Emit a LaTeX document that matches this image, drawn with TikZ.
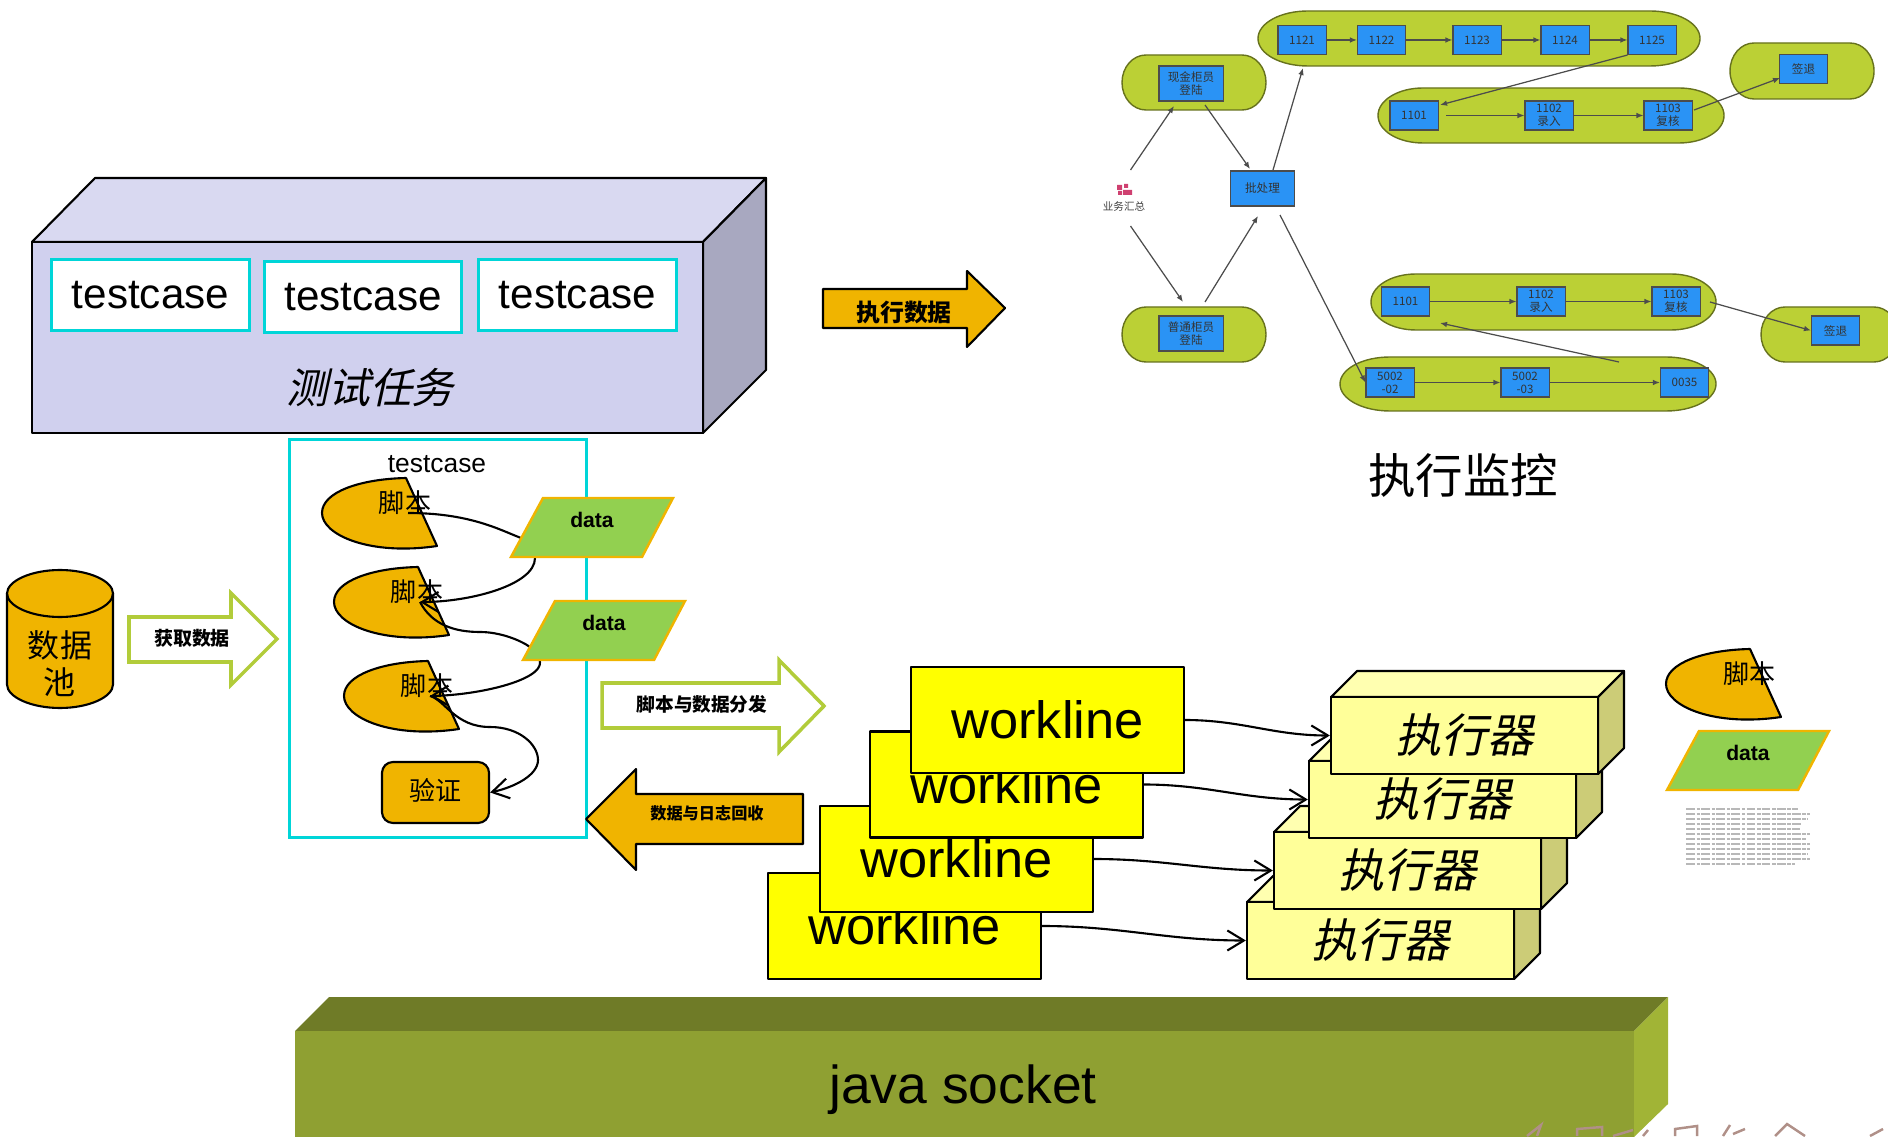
\documentclass[tikz,border=0pt]{standalone}
\usepackage{fontspec}
\setmainfont{Liberation Sans}
\newfontfamily\cjk{Noto Sans CJK SC}
\newfontfamily\cjkxie[FakeSlant=0.22]{Noto Sans CJK SC}
\usetikzlibrary{arrows.meta}

\definecolor{juhuang}{HTML}{F0B400}
\definecolor{qingbian}{HTML}{00D5D8}
\definecolor{caolv}{HTML}{92D050}
\definecolor{danlv}{HTML}{B2CC3A}
\definecolor{guolv}{HTML}{BBD035}
\definecolor{lanse}{HTML}{2A93F5}
\definecolor{zheng}{HTML}{D0D0EE}
\definecolor{ding}{HTML}{D9D9F1}
\definecolor{ce}{HTML}{A8A8C0}
\definecolor{mingd}{HTML}{FFFF00}
\definecolor{qiand}{HTML}{FFFF99}
\definecolor{qiandd}{HTML}{FFFFB0}
\definecolor{qiance}{HTML}{CCCC77}
\definecolor{zuozheng}{HTML}{8FA032}
\definecolor{zuoding}{HTML}{6F7B27}
\definecolor{zuoce}{HTML}{A1B436}
\definecolor{shuiyin}{HTML}{B09088}

\tikzset{
	heibian/.style={draw=black,line width=0.6pt,line join=round},
	ceshikuang/.style={draw=qingbian,line width=0.85pt,fill=white,minimum width=1.97cm,minimum height=0.71cm,inner sep=0,font=\fontsize{12}{14}\selectfont},
	juhuangjian/.style={heibian,fill=juhuang},
	baijian/.style={draw=danlv,line width=1pt,fill=white,line join=miter},
	jianzi/.style={font=\cjk\bfseries\fontsize{#1}{#1}\selectfont,inner sep=0},
	jiaobenzi/.style={font=\cjk\fontsize{7.4}{8.5}\selectfont,inner sep=0},
	gongzuo/.style={heibian,fill=mingd,minimum width=2.72cm,minimum height=1.06cm,inner sep=0,font=\fontsize{14.9}{16}\selectfont},
	zhixingzi/.style={heibian,fill=qiand,minimum width=2.67cm,minimum height=0.77cm,inner sep=0,font=\cjkxie\fontsize{13.1}{14}\selectfont},
	quxian/.style={line width=0.6pt,-{Straight Barb[length=4.7pt,width=5.7pt]}},
	lanbox/.style={draw=black!70,line width=0.3pt,fill=lanse,minimum width=0.48cm,minimum height=0.29cm,inner sep=0,align=center,text=black!80,font=\cjk\fontsize{3.3}{3.7}\selectfont},
	lanbig/.style={lanbox,minimum width=0.64cm,minimum height=0.35cm},
	lvzu/.style={draw=black!45!guolv,line width=0.4pt,fill=guolv},
	xixian/.style={line width=0.35pt,draw=black!70,-{Latex[length=2pt,width=1.6pt]}},
	jiaoben/.pic={
		\draw[juhuangjian] (0,0) .. controls (-46,1) and (-84,14) .. (-84,35) .. controls (-84,57) and (-36,78) .. (31,68) -- cycle;
		\node[jiaobenzi] (-txt) at (-1,25) {脚本};
		\coordinate (-r) at (2,35);
	},
	shuju/.pic={
		\draw[draw=juhuang,line width=0.7pt,fill=caolv] (-49,-29.5) -- (81,-29.5) -- (50,29.5) -- (-81,29.5) -- cycle;
		\node[font=\bfseries\fontsize{6}{7}\selectfont,inner sep=0] (-txt) at (0,-8) {data};
	},
	zhixing/.pic={
		\draw[heibian,fill=qiandd] (0,0) -- (26,-26) -- (293,-26) -- (267,0) -- cycle;
		\draw[heibian,fill=qiance] (267,0) -- (293,-26) -- (293,51) -- (267,77) -- cycle;
		\node[zhixingzi] (-q) at (133.5,38.5) {执行器};
	}
}

% green group with stretched ends: x1,y1,x2,y2,rx
\newcommand{\lvkuang}[5]{
	\draw[lvzu] (#1+#5,#2) -- (#3-#5,#2) .. controls (#3-0.45*#5,#2) and (#3,#2+0.22*#4-0.22*#2) .. (#3,#2*0.5+#4*0.5)
		.. controls (#3,#4-0.22*#4+0.22*#2) and (#3-0.45*#5,#4) .. (#3-#5,#4) -- (#1+#5,#4)
		.. controls (#1+0.45*#5,#4) and (#1,#4-0.22*#4+0.22*#2) .. (#1,#2*0.5+#4*0.5)
		.. controls (#1,#2+0.22*#4-0.22*#2) and (#1+0.45*#5,#2) .. (#1+#5,#2) -- cycle;
}

\begin{document}
\begin{tikzpicture}[x=0.01cm,y=-0.01cm]
		\useasboundingbox (0,0) rectangle (1888,1137);
		% test task block
		\draw[heibian,fill=ding] (32,242) -- (95,178) -- (766,178) -- (703,242) -- cycle;
		\draw[heibian,fill=ce] (703,242) -- (766,178) -- (766,370) -- (703,433) -- cycle;
		\node[heibian,fill=zheng,minimum width=6.71cm,minimum height=1.91cm] (renwu) at (367.5,337.5) {};
		\node[ceshikuang] (tc1) at (150.5,295) {testcase};
		\node[ceshikuang] (tc2) at (363,297) {testcase};
		\node[ceshikuang] (tc3) at (577.5,295) {testcase};
		\node[font=\cjkxie\fontsize{11.9}{13}\selectfont,inner sep=0] (renwuzi) at (370,388) {测试任务};
		% testcase frame
		\node[draw=qingbian,line width=0.85pt,minimum width=2.96cm,minimum height=3.97cm] (tcwai) at (438,638.5) {};
		\node[font=\fontsize{7.5}{9}\selectfont,inner sep=0] (tcming) at (437,464) {testcase};
		\pic (s1) at (406,478) {jiaoben};
		\pic (s2) at (418,567) {jiaoben};
		\pic (s3) at (428,661) {jiaoben};
		\node[juhuangjian,rounded corners=0.11cm,minimum width=1.07cm,minimum height=0.61cm,inner sep=0,text height=6.5pt,text depth=1.8pt,font=\cjk\fontsize{7.4}{8.5}\selectfont] (yanzheng) at (435.5,792.5) {验证};
		\draw[line width=0.6pt] (s1-r) .. controls (470,513) and (500,530) .. (521,538) .. controls (529,541) and (535,552) .. (535,558);
		\draw[quxian] (535,558) .. controls (535,585) and (470,602) .. (s2-r);
		\draw[line width=0.6pt] (s2-r) .. controls (432,625) and (455,632) .. (480,632) .. controls (500,632) and (520,640) .. (530,647) .. controls (536,652) and (540,657) .. (540,662);
		\draw[quxian] (540,662) .. controls (542,680) and (480,695) .. (s3-r);
		\draw[quxian] (s3-r) .. controls (445,700) and (455,727) .. (490,727) .. controls (520,727) and (538,745) .. (538,760) .. controls (538,775) and (515,787) .. (yanzheng.east);
		\pic (d1) at (592,527.5) {shuju};
		\pic (d2) at (604,630.5) {shuju};
		% data pool
		\draw[juhuangjian] (7,593.5) -- (7,684.5) .. controls (7,697) and (31,708) .. (60,708) .. controls (89,708) and (113,697) .. (113,684.5) -- (113,593.5) .. controls (113,581) and (89,570) .. (60,570) .. controls (31,570) and (7,581) .. (7,593.5) -- cycle;
		\draw[heibian] (7,593.5) .. controls (7,606) and (31,617) .. (60,617) .. controls (89,617) and (113,606) .. (113,593.5);
		\node[align=center,inner sep=0,font=\cjk\fontsize{9.1}{10.6}\selectfont] (shujuchi) at (60,664) {数据\\池};
		% block arrows
		\draw[baijian] (129,617) -- (231,617) -- (231,593) -- (277,639) -- (231,685) -- (231,662) -- (129,662) -- cycle;
		\node[jianzi=5.4] (huoqu) at (192,638) {获取数据};
		\draw[baijian] (602,683) -- (779,683) -- (779,660) -- (824,706) -- (779,752) -- (779,728) -- (602,728) -- cycle;
		\node[jianzi=5.3] (fenfa) at (702,704) {脚本与数据分发};
		\draw[juhuangjian] (586,819) -- (636,769) -- (636,794) -- (803,794) -- (803,844) -- (636,844) -- (636,870) -- cycle;
		\node[jianzi=4.6] (huishou) at (707,813) {数据与日志回收};
		\draw[juhuangjian] (823,289) -- (967,289) -- (967,271) -- (1005,308) -- (967,347) -- (967,328) -- (823,328) -- cycle;
		\node[jianzi=6.8] (zhixingshuju) at (904,313) {执行数据};
		% worklines and executors
		\node[gongzuo] (w1) at (904.5,926) {workline};
		\node[gongzuo] (w2) at (956.5,859) {workline};
		\node[gongzuo] (w3) at (1006.5,784.5) {workline};
		\node[gongzuo] (w4) at (1047.5,720) {workline};
		\pic (e1) at (1247,902) {zhixing};
		\pic (e2) at (1274,832) {zhixing};
		\pic (e3) at (1309,761) {zhixing};
		\pic (e4) at (1331,697) {zhixing};
		\draw[quxian] (w1.east) to[out=0,in=180] (e1-q.west);
		\draw[quxian] (w2.east) to[out=0,in=180] (e2-q.west);
		\draw[quxian] (w3.east) to[out=0,in=180] (e3-q.west);
		\draw[quxian] (w4.east) to[out=0,in=180] (e4-q.west);
		% side legend
		\pic (s4) at (1750,649) {jiaoben};
		\pic (d3) at (1748,760.5) {shuju};
		\foreach \rizhi/\changdu in {809/1798,814/1810,819/1808,824/1802,829/1800,834/1810,839/1806,844/1810,849/1810,854/1808,859/1810,864/1795}
			\draw[black!28,line width=0.4pt,dash pattern=on 2.5pt off 0.5pt on 1pt off 0.3pt] (1686,\rizhi) -- (\changdu,\rizhi);
		% java socket
		\fill[zuoding] (295,1031) -- (329,997) -- (1668,997) -- (1634,1031) -- cycle;
		\fill[zuoce] (1634,1031) -- (1668,997) -- (1668,1104) -- (1634,1137) -- cycle;
		\node[fill=zuozheng,minimum width=13.39cm,minimum height=1.06cm,inner sep=0] (dizuo) at (964.5,1084) {};
		\node[font=\fontsize{15.2}{17}\selectfont,inner sep=0] (java) at (963,1090) {java socket};
		\draw[shuiyin,line width=0.7pt] (1527,1136) -- (1541,1125) -- (1537,1136) (1577,1136) -- (1577,1129) -- (1602,1127) -- (1602,1136) (1613,1136) -- (1633,1130) (1643,1136) -- (1648,1130) (1675,1136) -- (1675,1129) -- (1697,1126) -- (1697,1136) (1723,1136) -- (1730,1125) (1733,1134) -- (1745,1129) (1775,1136) -- (1787,1124) -- (1805,1136) (1870,1136) -- (1883,1129);
		% monitor groups
		\lvkuang{1258}{11}{1700}{66}{50}
		\lvkuang{1378}{88}{1724}{143}{45}
		\lvkuang{1730}{43}{1874}{99}{24}
		\lvkuang{1122}{55}{1266}{110}{24}
		\lvkuang{1122}{307}{1266}{362}{24}
		\lvkuang{1371}{274}{1716}{330}{45}
		\lvkuang{1761}{307}{1898}{362}{24}
		\lvkuang{1340}{357}{1716}{411}{50}
		\node[lanbox] (b1121) at (1302,40) {1121};
		\node[lanbox] (b1122) at (1381.5,40) {1122};
		\node[lanbox] (b1123) at (1477,40) {1123};
		\node[lanbox] (b1124) at (1565,40) {1124};
		\node[lanbox] (b1125) at (1652,40) {1125};
		\node[lanbox] (a1101) at (1414,115.5) {1101};
		\node[lanbox] (a1102) at (1549,115.5) {1102\\录入};
		\node[lanbox] (a1103) at (1668,115.5) {1103\\复核};
		\node[lanbox] (aqian) at (1803.5,69) {签退};
		\node[lanbig] (xianjin) at (1191,83.5) {现金柜员\\登陆};
		\node[lanbig] (pichuli) at (1262.5,188.5) {批处理};
		\node[lanbig] (putong) at (1191,333.5) {普通柜员\\登陆};
		\node[lanbox] (c1101) at (1405.5,301.5) {1101};
		\node[lanbox] (c1102) at (1541,301.5) {1102\\录入};
		\node[lanbox] (c1103) at (1676,301.5) {1103\\复核};
		\node[lanbox] (cqian) at (1835.5,330.5) {签退};
		\node[lanbox] (d5002) at (1390,382.5) {5002\\-02};
		\node[lanbox] (d5003) at (1525,382.5) {5002\\-03};
		\node[lanbox] (d0035) at (1684.5,382.5) {0035};
		\fill[purple!75!white] (1117,185) rectangle (1122,190) (1124,184) rectangle (1128,188) (1123,190) rectangle (1132,195) (1118,191) rectangle (1122,195);
		\node[inner sep=0,text=black!75,font=\cjk\fontsize{3}{3.5}\selectfont] (huizong) at (1124,206) {业务汇总};
		\node[inner sep=0,font=\cjk\fontsize{13.5}{15}\selectfont] (jiankong) at (1463,476) {执行监控};
		\coordinate (huizongup) at (1130.5,170);
		\coordinate (huizongdown) at (1130.5,226);
		\coordinate (xianjinin) at (1174,106);
		\coordinate (xianjinout) at (1205,105);
		\coordinate (putongin) at (1183,302);
		\coordinate (putongout) at (1205,302);
		\coordinate (pishang) at (1250,169);
		\coordinate (pixia) at (1258,216);
		\coordinate (piup) at (1273,170);
		\coordinate (pidown) at (1280,215);
		\coordinate (zu1121) at (1303,68);
		\coordinate (zu5002) at (1619,362);
		\coordinate (zu1101) at (1440,323);
		\coordinate (a1101kou) at (1440,105);
		\coordinate (a1103kou) at (1694,110);
		\coordinate (aqiankou) at (1780,78);
		\coordinate (c1103kou) at (1710,302);
		\coordinate (a1101you) at (1446,115.5);
		\draw[xixian] (huizongup) -- (xianjinin);
		\draw[xixian] (xianjinout) -- (pishang);
		\draw[xixian] (piup) -- (zu1121);
		\draw[xixian] (huizongdown) -- (putongin);
		\draw[xixian] (putongout) -- (pixia);
		\draw[xixian] (pidown) -- (d5002.west);
		\draw[xixian] (b1121) -- (b1122);
		\draw[xixian] (b1122) -- (b1123);
		\draw[xixian] (b1123) -- (b1124);
		\draw[xixian] (b1124) -- (b1125);
		\draw[xixian] (b1125.south west) -- (a1101kou);
		\draw[xixian] (a1101you) -- (a1102);
		\draw[xixian] (a1102) -- (a1103);
		\draw[xixian] (a1103kou) -- (aqiankou);
		\draw[xixian] (c1101) -- (c1102);
		\draw[xixian] (c1102) -- (c1103);
		\draw[xixian] (c1103kou) -- (cqian.west);
		\draw[xixian] (d5002) -- (d5003);
		\draw[xixian] (d5003) -- (d0035);
		\draw[xixian] (zu5002) -- (zu1101);
\end{tikzpicture}
\end{document}
